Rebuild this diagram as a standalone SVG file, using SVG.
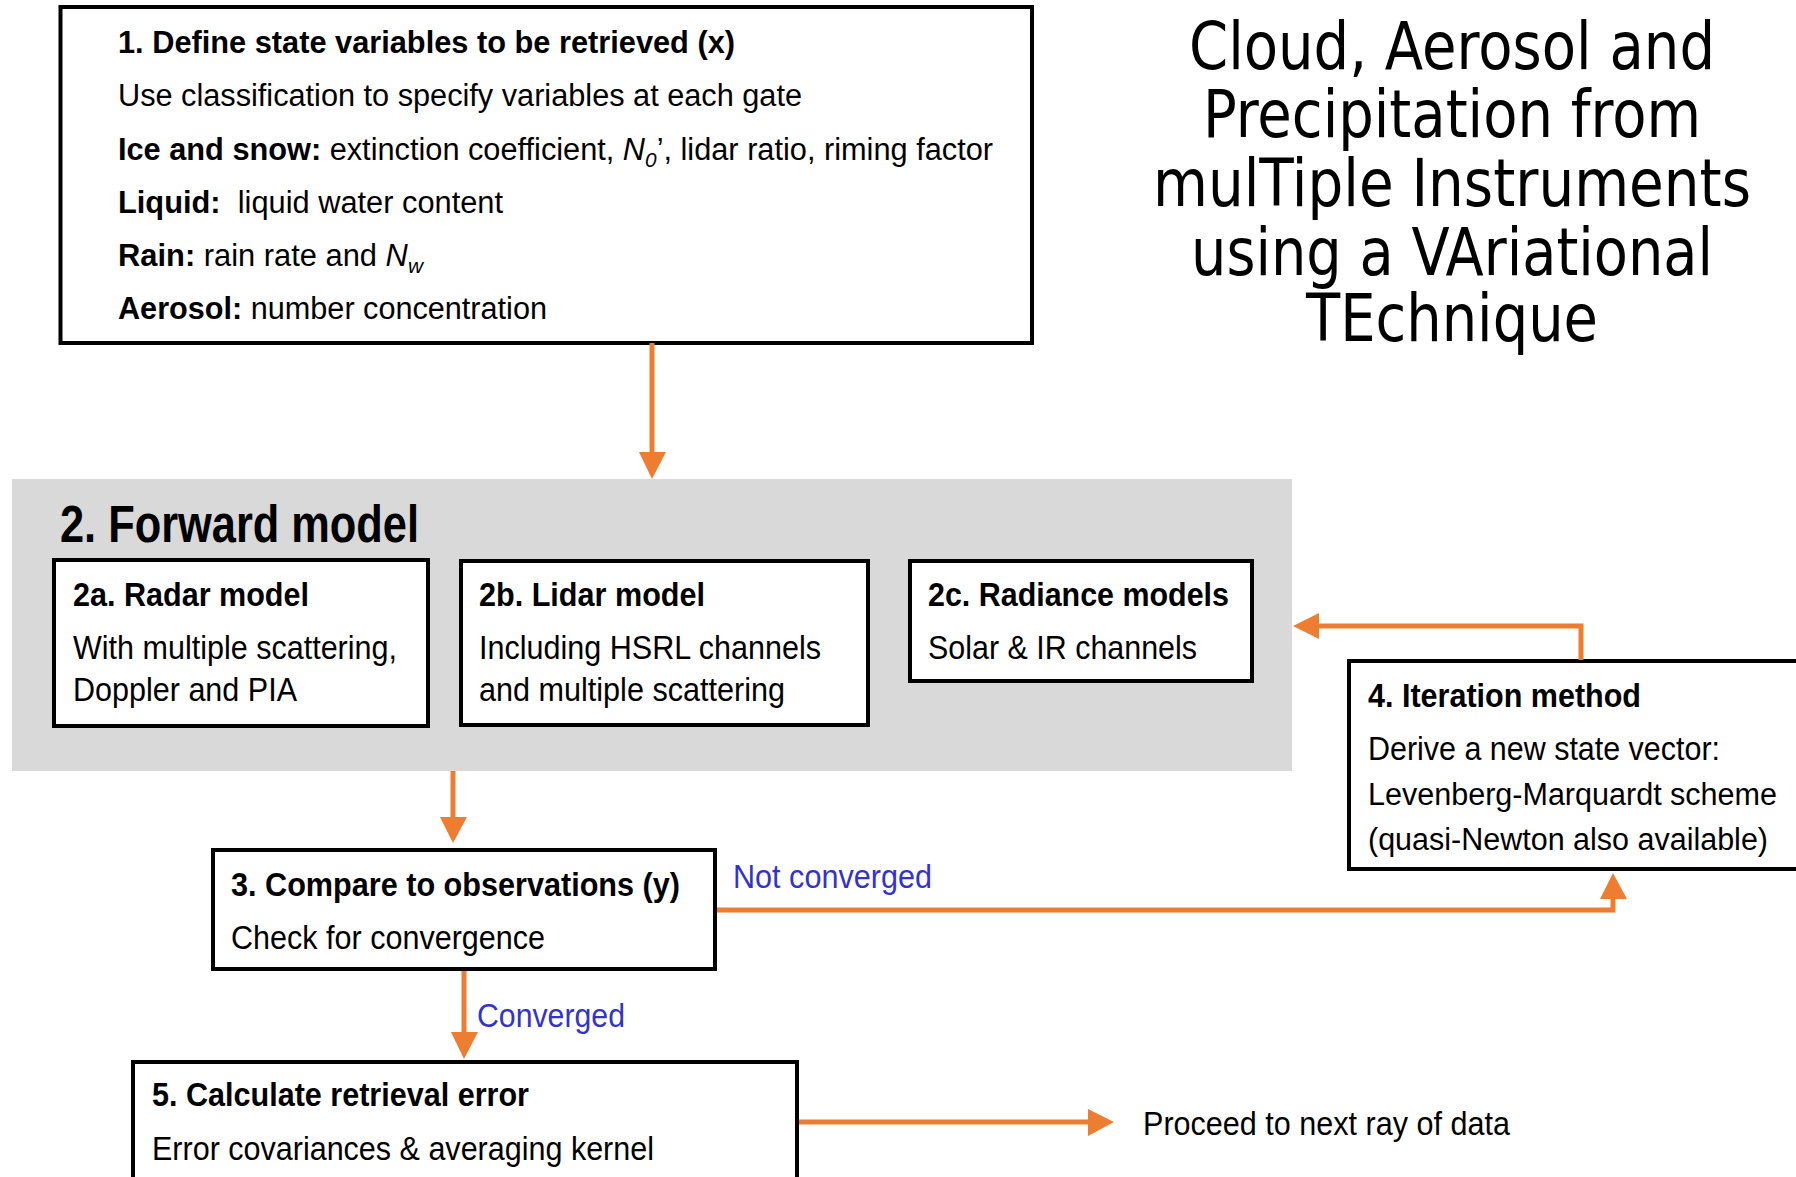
<svg xmlns="http://www.w3.org/2000/svg" width="1796" height="1177" viewBox="0 0 1796 1177">
<style>
.box{fill:#fff;stroke:#000;stroke-width:4}
.t{font-family:"Liberation Sans Narrow","Liberation Sans",Arial,sans-serif;font-size:31px;fill:#000}
.m{font-size:33px}
.b{font-weight:bold}
.big{font-size:51px}
.sub{font-size:21px;font-style:italic}
.lbl{font-family:"Liberation Sans Narrow","Liberation Sans",Arial,sans-serif;font-size:33px;fill:#3333CC}
.ttl{font-family:"DejaVu Sans Condensed","DejaVu Sans",sans-serif;font-stretch:condensed;font-size:66px;fill:#000;text-anchor:middle}
.c{fill:none;stroke:#ED7D31;stroke-width:5}
.h{fill:#ED7D31;stroke:none}
</style>
<rect x="0" y="0" width="1796" height="1177" fill="#fff"/>

<g id="title">
<text class="ttl" x="1452" y="69" textLength="526" lengthAdjust="spacingAndGlyphs">Cloud, Aerosol and</text>
<text class="ttl" x="1452" y="137" textLength="498" lengthAdjust="spacingAndGlyphs">Precipitation from</text>
<text class="ttl" x="1452" y="206" textLength="598" lengthAdjust="spacingAndGlyphs">mulTiple Instruments</text>
<text class="ttl" x="1452" y="275" textLength="522" lengthAdjust="spacingAndGlyphs">using a VAriational</text>
<text class="ttl" x="1452" y="341" textLength="292" lengthAdjust="spacingAndGlyphs">TEchnique</text>
</g>

<g id="node1">
<rect class="box" x="60.5" y="7" width="971.5" height="336"/>
<text class="t b" x="118" y="53" textLength="617" lengthAdjust="spacingAndGlyphs">1. Define state variables to be retrieved (x)</text>
<text class="t" x="118" y="106" textLength="684" lengthAdjust="spacingAndGlyphs">Use classification to specify variables at each gate</text>
<text class="t" x="118" y="160" textLength="875" lengthAdjust="spacingAndGlyphs"><tspan font-weight="bold">Ice and snow:</tspan> extinction coefficient, <tspan font-style="italic">N</tspan><tspan class="sub" dy="7">0</tspan><tspan dy="-7">’, lidar ratio, riming factor</tspan></text>
<text class="t" x="118" y="213" textLength="385" lengthAdjust="spacingAndGlyphs"><tspan font-weight="bold">Liquid:</tspan>&#160; liquid water content</text>
<text class="t" x="118" y="266" textLength="305" lengthAdjust="spacingAndGlyphs"><tspan font-weight="bold">Rain:</tspan> rain rate and <tspan font-style="italic">N</tspan><tspan class="sub" dy="7">w</tspan></text>
<text class="t" x="118" y="319" textLength="429" lengthAdjust="spacingAndGlyphs"><tspan font-weight="bold">Aerosol:</tspan> number concentration</text>
</g>

<g id="node2">
<rect x="12" y="479" width="1280" height="292" fill="#D9D9D9"/>
<text class="t b big" x="60" y="542" textLength="359" lengthAdjust="spacingAndGlyphs">2. Forward model</text>
</g>

<g id="node2a">
<rect class="box" x="54" y="560" width="374" height="166"/>
<text class="t m b" x="73" y="606" textLength="236" lengthAdjust="spacingAndGlyphs">2a. Radar model</text>
<text class="t m" x="73" y="659" textLength="324" lengthAdjust="spacingAndGlyphs">With multiple scattering,</text>
<text class="t m" x="73" y="701" textLength="224" lengthAdjust="spacingAndGlyphs">Doppler and PIA</text>
</g>

<g id="node2b">
<rect class="box" x="461" y="561" width="407" height="164"/>
<text class="t m b" x="479" y="606" textLength="226" lengthAdjust="spacingAndGlyphs">2b. Lidar model</text>
<text class="t m" x="479" y="659" textLength="342" lengthAdjust="spacingAndGlyphs">Including HSRL channels</text>
<text class="t m" x="479" y="701" textLength="306" lengthAdjust="spacingAndGlyphs">and multiple scattering</text>
</g>

<g id="node2c">
<rect class="box" x="910" y="561" width="342" height="120"/>
<text class="t m b" x="928" y="606" textLength="301" lengthAdjust="spacingAndGlyphs">2c. Radiance models</text>
<text class="t m" x="928" y="659" textLength="269" lengthAdjust="spacingAndGlyphs">Solar &amp; IR channels</text>
</g>

<g id="node3">
<rect class="box" x="213" y="850" width="502" height="119"/>
<text class="t m b" x="231" y="896" textLength="449" lengthAdjust="spacingAndGlyphs">3. Compare to observations (y)</text>
<text class="t m" x="231" y="949" textLength="314" lengthAdjust="spacingAndGlyphs">Check for convergence</text>
</g>

<g id="node4">
<rect class="box" x="1349" y="661" width="460" height="208"/>
<text class="t m b" x="1368" y="707" textLength="273" lengthAdjust="spacingAndGlyphs">4. Iteration method</text>
<text class="t m" x="1368" y="760" textLength="352" lengthAdjust="spacingAndGlyphs">Derive a new state vector:</text>
<text class="t" x="1368" y="805" textLength="409" lengthAdjust="spacingAndGlyphs">Levenberg-Marquardt scheme</text>
<text class="t" x="1368" y="850" textLength="400" lengthAdjust="spacingAndGlyphs">(quasi-Newton also available)</text>
</g>

<g id="node5">
<rect class="box" x="133" y="1062" width="664" height="140"/>
<text class="t m b" x="152" y="1106" textLength="377" lengthAdjust="spacingAndGlyphs">5. Calculate retrieval error</text>
<text class="t m" x="152" y="1160" textLength="502" lengthAdjust="spacingAndGlyphs">Error covariances &amp; averaging kernel</text>
</g>

<g id="next">
<text class="t m" x="1143" y="1135" textLength="367" lengthAdjust="spacingAndGlyphs">Proceed to next ray of data</text>
</g>

<g id="connectors">
<line class="c" x1="652" y1="343" x2="652" y2="454"/>
<polygon class="h" points="639,452 666,452 652,479"/>
<line class="c" x1="453" y1="771" x2="453" y2="819"/>
<polygon class="h" points="440,817 467,817 453,843"/>
<line class="c" x1="464" y1="971" x2="464" y2="1034"/>
<polygon class="h" points="451,1032 478,1032 464,1059"/>
<polyline class="c" points="717,910 1613,910 1613,897"/>
<polygon class="h" points="1600,899 1627,899 1613,873"/>
<polyline class="c" points="1581,660 1581,626 1317,626"/>
<polygon class="h" points="1319,613 1319,639 1293,626"/>
<line class="c" x1="799" y1="1122" x2="1090" y2="1122"/>
<polygon class="h" points="1088,1109 1088,1136 1114,1122"/>
<text class="lbl" x="733" y="888" textLength="199" lengthAdjust="spacingAndGlyphs">Not converged</text>
<text class="lbl" x="477" y="1027" textLength="148" lengthAdjust="spacingAndGlyphs">Converged</text>
</g>
</svg>
